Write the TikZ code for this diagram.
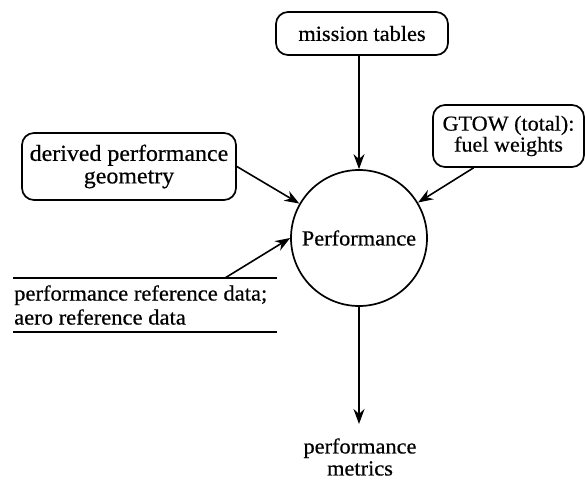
\documentclass[tikz,border=0pt]{standalone}
\usepackage{fontspec}
\setmainfont{Liberation Serif}[FakeStretch=1.04, FakeBold=0.5]
\usetikzlibrary{arrows.meta}

\begin{document}
\begin{tikzpicture}[x=1pt,y=-1pt,
  every node/.style={font=\fontsize{21.5}{22}\selectfont},
  box/.style={draw, line width=1.7pt, rounded corners=12pt, align=center, inner sep=0pt},
  proc/.style={draw, circle, line width=1.7pt, minimum size=136pt, inner sep=0pt},
  store/.style={line width=1.8pt},
  flow/.style={draw, line width=1.6pt, -{Stealth[length=15pt,width=11pt]}},
]
\useasboundingbox (0,0) rectangle (585,481);

% process and external sources
\node[proc] (perf) at (359,238) {Performance};
\node[box, minimum width=172pt, minimum height=43pt] (mission) at (362,33.5) {mission tables};
\node[box, minimum width=214pt, minimum height=67pt, font=\fontsize{23}{22.5}\selectfont] (derived) at (129,166.5) {derived performance\\geometry};
\node[box, minimum width=151pt, minimum height=62pt, font=\fontsize{21.3}{21}\selectfont] (gtow) at (508.5,136) {GTOW (total):\\fuel weights};

% data store: two horizontal rules around its label
\coordinate (storeTL) at (13,278);
\coordinate (storeTR) at (277,278);
\coordinate (storeBL) at (13,332);
\coordinate (storeBR) at (277,332);
\draw[store] (storeTL) -- (storeTR);
\draw[store] (storeBL) -- (storeBR);
\node[anchor=west, align=left, inner sep=0pt, font=\fontsize{21.7}{24}\selectfont] (refdata) at (14,305)
  {performance reference data;\\aero reference data};
\coordinate (storeOut) at (225,278);

% output
\node[align=center, inner sep=0pt] (metrics) at (360,457) {performance\\metrics};
\coordinate (metricsIn) at (359,424);

% flows
\path[flow] (mission.south -| perf.north) -- (perf.north);
\path[flow] (derived.east) -- (perf.150);
\path[flow] ([xshift=-35pt]gtow.south) -- (perf.31);
\path[flow] (storeOut) -- (perf.180);
\path[flow] (perf.south) -- (metricsIn);
\end{tikzpicture}
\end{document}
